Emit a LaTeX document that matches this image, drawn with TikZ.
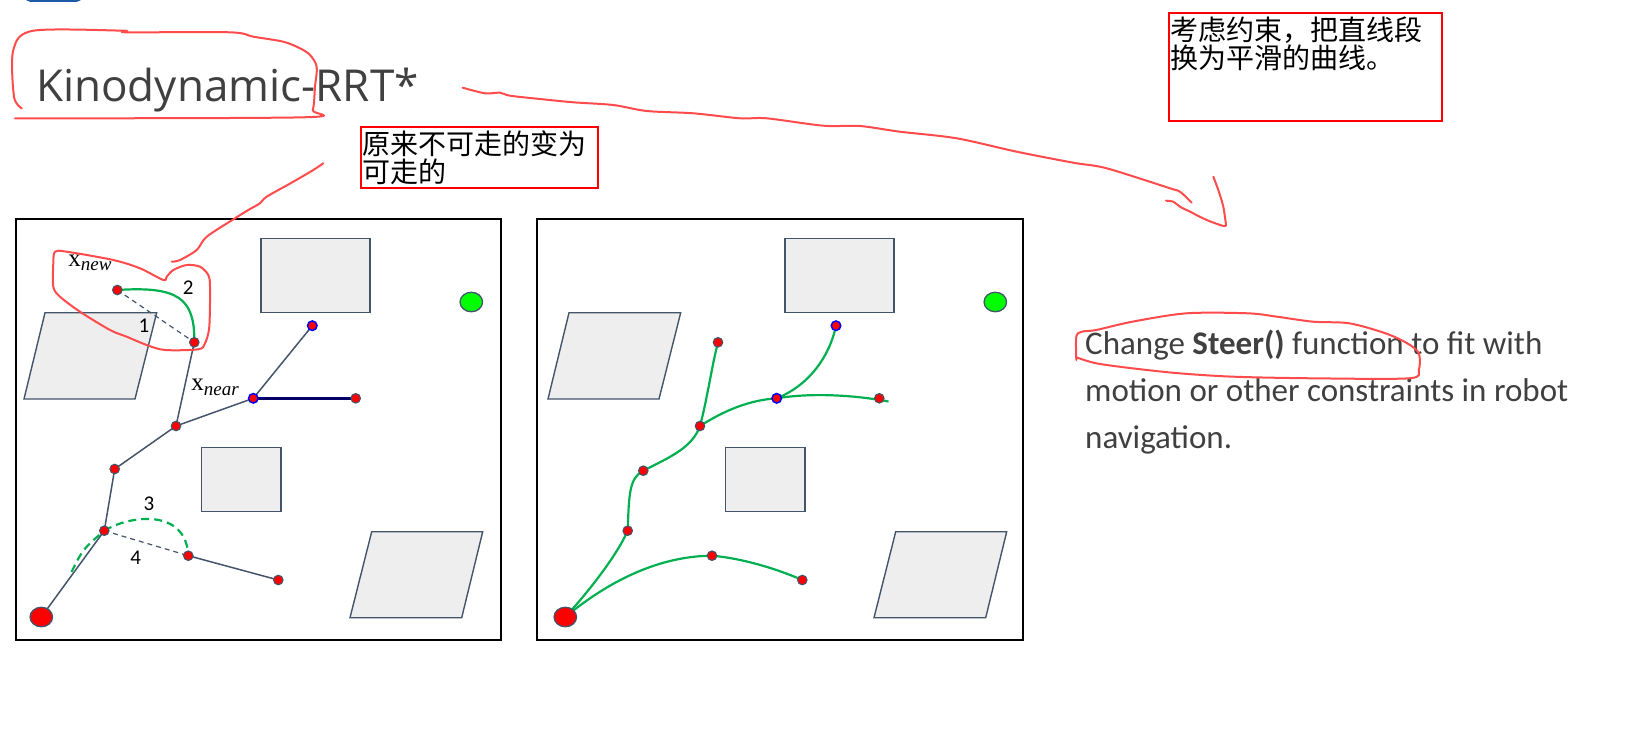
\documentclass[tikz,border=0pt]{standalone}
\usepackage{fontspec}
\setmainfont{Carlito}
\newfontfamily\headfont{Open Sans}
\newfontfamily\lserif{Liberation Serif}
\newfontfamily\cjk{Noto Sans CJK SC}
\usetikzlibrary{shapes.geometric}
\definecolor{slate}{HTML}{44546A}
\definecolor{leaf}{HTML}{00B050}
\definecolor{ink}{HTML}{404040}
\definecolor{pen}{HTML}{FF4B4B}
\definecolor{navy}{HTML}{000066}
\definecolor{obst}{HTML}{EEEEEE}
\definecolor{goal}{HTML}{00FF00}
\definecolor{tab}{HTML}{1E5AA8}
\newcommand{\subx}[1]{x\raisebox{-4.5pt}{\fontsize{19}{19}\selectfont\itshape #1}}

\begin{document}
\begin{tikzpicture}[x=1pt,y=-1pt,
  frame/.style={draw=black,line width=1.6pt},
  block/.style={draw=slate,fill=obst,line width=1.4pt},
  vtx/.style={circle,draw=slate,fill=red,line width=1.1pt,minimum size=9.5pt,inner sep=0pt},
  bvtx/.style={vtx,draw=blue,line width=1.5pt},
  endpt/.style={ellipse,draw=slate,fill=#1,line width=1.3pt,minimum width=22.5pt,minimum height=19.5pt,inner sep=0pt},
  edge/.style={draw=slate,line width=1.5pt},
  dedge/.style={edge,line width=1.2pt,dash pattern=on 5pt off 4pt},
  steer/.style={draw=leaf,line width=2.2pt},
  gdash/.style={steer,dash pattern=on 8pt off 5pt},
  hand/.style={draw=pen,line width=2pt,line cap=round,line join=round},
  note/.style={draw=red,line width=2pt,inner xsep=1pt,inner ysep=4pt,outer sep=0pt,anchor=north west,font=\cjk\fontsize{28}{28.5}\selectfont},
  num/.style={font=\fontsize{21}{21}\selectfont},
  lab/.style={font=\lserif\fontsize{25}{25}\selectfont}]
\useasboundingbox (0,0) rectangle (1627,745);
\fill[tab,rounded corners=5pt] (25,-10) rectangle (82,1.8);
% titles and notes
\node[anchor=base west,text=ink,font=\headfont\fontsize{44}{44}\selectfont,inner sep=0pt] (title) at (36,101.7) {Kinodynamic-RRT*};
\node[note] (pass) at (361,126.6) {\parbox[t][53pt][t]{234.7pt}{原来不可走的变为\\可走的}};
\node[note] (cons) at (1169.3,12.7) {\parbox[t][100pt][t]{271pt}{考虑约束，把直线段\\换为平滑的曲线。}};
\node[anchor=base west,text=ink,font=\fontsize{33}{47}\selectfont,align=left,inner sep=0pt] (steer) at (1085,448) {Change \textbf{Steer()} function to fit with\\motion or other constraints in robot\\navigation.};
% panels and obstacles
\draw[frame] (15.7,219) rectangle (501,640);
\draw[frame] (536.7,219) rectangle (1022.7,640);
\foreach \dx in {0,524} {
  \begin{scope}[xshift=\dx]
    \draw[block] (261,238.3) rectangle (370,312.7);
    \draw[block] (45,312.7) -- (156.7,312.7) -- (135,399) -- (24,399) -- cycle;
    \draw[block] (201.7,447.3) rectangle (281,511.7);
    \draw[block] (371.7,531.7) -- (482.7,531.7) -- (461.7,617.7) -- (350,617.7) -- cycle;
  \end{scope}
}
\node[endpt=goal] (goalL) at (471.3,302) {};
\node[endpt=goal] (goalR) at (995.3,302) {};
% left tree: straight steering
\coordinate (sL) at (41.3,617);
\coordinate (xnew) at (117.3,290);
\coordinate (xnear) at (194.3,342.3);
\coordinate (vB) at (176,426);
\coordinate (vC) at (253.3,398.3);
\coordinate (vD) at (312.3,325.7);
\coordinate (vE) at (355.7,398.3);
\coordinate (vF) at (114.7,469);
\coordinate (vG) at (104.3,530.7);
\coordinate (vH) at (188.3,555.7);
\coordinate (vI) at (278.3,580);
\coordinate (g0) at (71.5,572);
\draw[edge] (sL) -- (vG) -- (vF) -- (vB) -- (xnear);
\draw[edge] (vB) -- (vC) -- (vD);
\draw[edge,draw=navy,line width=2.4pt] (vC) -- (vE);
\draw[edge] (vH) -- (vI);
\draw[dedge] (xnew) -- (xnear);
\draw[dedge] (vG) -- (vH);
\draw[steer] (xnew) .. controls (178,286) and (195,298) .. (xnear);
\draw[gdash] (vG) .. controls (130,515) and (186,508) .. (vH);
\draw[gdash] (g0) .. controls (83,549) .. (vG);
\node[endpt=red] (sLdot) at (sL) {};
\foreach \v in {xnew,xnear,vB,vE,vF,vG,vH,vI} \node[vtx] (d\v) at (\v) {};
\foreach \v in {vC,vD} \node[bvtx] (d\v) at (\v) {};
\node[lab] (newlab) at (90,263) {\subx{new}};
\node[lab] (nearlab) at (215,387.5) {\subx{near}};
\node[num] (n1) at (144,326) {1};
\node[num] (n2) at (188.3,287.3) {2};
\node[num] (n3) at (149,503.3) {3};
\node[num] (n4) at (135.7,557.7) {4};
% right tree: curved steering
\coordinate (sR) at (565.3,617);
\coordinate (wP) at (718,342.3);
\coordinate (wD) at (836,325.7);
\coordinate (wC) at (776.7,398.3);
\coordinate (wE) at (879.3,398.3);
\coordinate (wEnd) at (888.5,401.5);
\coordinate (wB) at (700,426);
\coordinate (wF) at (643.3,470.7);
\coordinate (wG) at (627.7,530.7);
\coordinate (wH) at (712,555.7);
\coordinate (wI) at (802.3,580);
\draw[steer] (sR) .. controls (590,590) and (617,555) .. (wG);
\draw[steer] (wG) .. controls (629,495) and (629,478) .. (wF);
\draw[steer] (wF) .. controls (670,457) and (692,448) .. (wB);
\draw[steer] (wB) .. controls (707,400) and (712,365) .. (wP);
\draw[steer] (wB) .. controls (725,410) and (750,400) .. (wC);
\draw[steer] (wC) .. controls (810,385) and (830,355) .. (wD);
\draw[steer] (wC) .. controls (815,392) and (860,396) .. (wEnd);
\draw[steer] (sR) .. controls (610,580) and (660,556) .. (wH);
\draw[steer] (wH) .. controls (740,558) and (775,568) .. (wI);
\node[endpt=red] (sRdot) at (sR) {};
\foreach \v in {wP,wE,wB,wF,wG,wH,wI} \node[vtx] (d\v) at (\v) {};
\foreach \v in {wC,wD} \node[bvtx] (d\v) at (\v) {};
% hand-drawn marks
\draw[hand] plot[smooth] coordinates {(21.7,108.3) (14,96.7) (13.3,50) (33.3,30.7) (123.3,30.7) (126.7,32.3) (230,32.3) (253.3,36.7) (283.3,41.7) (300,48.3) (310,55) (316.7,66.7) (315,86.7) (312.7,110) (303.3,117.3) (15,118.3)};
\draw[hand] plot[smooth cycle] coordinates {(55,251.7) (66.7,251.7) (113.3,260) (140,268.3) (163.3,280) (166.7,276.7) (173.3,270) (186.7,265) (200,266.7) (208.3,275) (210,286.7) (209.3,326.7) (205,343.3) (198.3,349.3) (165,350) (146.7,345) (126.7,336.7) (110,330) (80,311.7) (60,296.7) (53.3,286.7) (53.3,263.3)};
\draw[hand] plot[smooth] coordinates {(323.3,163.3) (313.3,170) (293.3,181.7) (266.7,196.7) (260,203.3) (248.3,210) (235,218.3) (206.7,236.7) (196.7,250) (180,260) (171.7,261.7)};
\draw[hand] plot[smooth] coordinates {(462.7,87.7) (485,93.3) (500,92.7) (510,95.7) (540,99) (573.3,102.3) (613.3,105) (646.7,111) (693.3,113.3) (740,118.3) (766.7,118.3) (823.3,125.7) (860,126) (900,131.7) (956.7,138.3) (1016.7,151.7) (1073.3,162.7) (1106.7,168.3) (1170,188.3) (1180,191.7) (1191.7,202.7)};
\draw[hand] plot[smooth] coordinates {(1166,200.7) (1173.3,201.7) (1180,206.7) (1190,211.7) (1206.7,220) (1223.3,226) (1226,225)};
\draw[hand] plot[smooth] coordinates {(1213.3,176.7) (1218.3,190) (1223.3,206.7) (1226,225)};
\draw[hand] plot[smooth] coordinates {(1076.3,360) (1076.3,336.7) (1081.7,331.7) (1096.2,330) (1132.3,321.7) (1186.6,313.3) (1248,313.3) (1277,316.7) (1313.2,321.7) (1349.3,323.3) (1385.5,333.3) (1407.2,343.3) (1418.8,353.3) (1418.8,370) (1409,378.3) (1313.2,378.3) (1233.6,376.7) (1179.3,373.3) (1132.3,368.3) (1096.2,363.3) (1076.3,357.3)};
\end{tikzpicture}
\end{document}
